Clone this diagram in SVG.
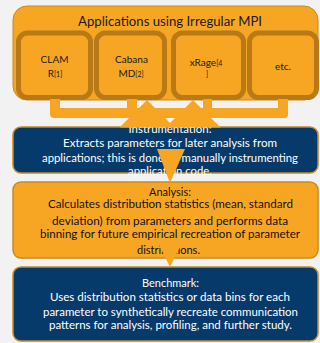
<svg xmlns="http://www.w3.org/2000/svg" width="320" height="343" viewBox="0 0 320 343">
<style>
.bg{fill:#f2f2f2}
.outer{fill:#f6a623;stroke:#c98b1c;stroke-width:1}
.app{fill:#f6a623;stroke:#b97a16;stroke-width:5}
.blue{fill:#063a6b;stroke:#c58a26;stroke-width:1.5}
.orange{fill:#f6a623;stroke:#c98b1c;stroke-width:1.5}
.conn{fill:#f6a623;stroke:none}
text{font-family:Lato,"Open Sans","Liberation Sans",sans-serif;text-anchor:middle}
.t{font-size:13px;fill:#1a1a1a}
.s{font-size:10px;fill:#1a1a1a}
.w{font-size:11.5px;fill:#ffffff}
.k{font-size:11.5px;fill:#111111}
.ref{font-size:7px}
</style>
<rect class="bg" x="0" y="0" width="320" height="343"/>
<g id="applications">
<rect class="outer" x="13" y="6" width="305" height="94" rx="14"/>
<text class="t" x="170" y="26" textLength="184" lengthAdjust="spacingAndGlyphs">Applications using Irregular MPI</text>
</g>
<g id="clamr">
<rect class="app" x="18.5" y="33" width="72" height="64.5" rx="9"/>
<text class="s" x="54.5" y="63">CLAM</text>
<text class="s" x="55" y="77">R<tspan class="ref">[1]</tspan></text>
</g>
<g id="cabanamd">
<rect class="app" x="96.5" y="33" width="68" height="64.5" rx="9"/>
<text class="s" x="131.5" y="63">Cabana</text>
<text class="s" x="131" y="77">MD<tspan class="ref">[2]</tspan></text>
</g>
<g id="xrage">
<rect class="app" x="173.5" y="33" width="70" height="64.5" rx="9"/>
<text class="s" x="206" y="66">xRage<tspan class="ref">[4</tspan></text>
<text class="s" x="207" y="77"><tspan class="ref">]</tspan></text>
</g>
<g id="etc">
<rect class="app" x="249.5" y="33" width="67" height="64.5" rx="9"/>
<text class="s" x="283" y="70">etc.</text>
</g>
<g id="instrumentation">
<rect class="blue" x="13" y="127" width="305" height="46" rx="8"/>
<text class="w" x="170" y="133" textLength="83" lengthAdjust="spacingAndGlyphs">Instrumentation:</text>
<text class="w" x="170" y="147" textLength="214" lengthAdjust="spacingAndGlyphs">Extracts parameters for later analysis from</text>
<text class="w" x="170" y="162" textLength="256" lengthAdjust="spacingAndGlyphs">applications; this is done by manually instrumenting</text>
<text class="w" x="170" y="175" textLength="84" lengthAdjust="spacingAndGlyphs">application code.</text>
</g>
<g id="analysis">
<rect class="orange" x="13" y="182" width="305" height="76" rx="8"/>
<text class="k" x="170" y="196" textLength="42" lengthAdjust="spacingAndGlyphs">Analysis:</text>
<text class="k" x="170.5" y="208" textLength="245" lengthAdjust="spacingAndGlyphs">Calculates distribution statistics (mean, standard</text>
<text class="k" x="170" y="224.5" textLength="236" lengthAdjust="spacingAndGlyphs">deviation)  from parameters and performs data</text>
<text class="k" x="170" y="237.5" textLength="260" lengthAdjust="spacingAndGlyphs">binning for future empirical recreation of parameter</text>
<text class="k" x="168.5" y="254" textLength="63" lengthAdjust="spacingAndGlyphs">distributions.</text>
</g>
<g id="benchmark">
<rect class="blue" x="13" y="267" width="305" height="74" rx="8"/>
<text class="w" x="170.5" y="287" textLength="57" lengthAdjust="spacingAndGlyphs">Benchmark:</text>
<text class="w" x="170" y="301" textLength="240" lengthAdjust="spacingAndGlyphs">Uses distribution statistics or data bins for each</text>
<text class="w" x="170.5" y="315.5" textLength="255" lengthAdjust="spacingAndGlyphs">parameter to synthetically recreate communication</text>
<text class="w" x="170.5" y="329" textLength="243" lengthAdjust="spacingAndGlyphs">patterns for analysis, profiling, and further study.</text>
</g>
<g id="connectors">
<path class="conn" d="M50,99 H60 V108 H127 V99 H137 V108 H203 V99 H212 V108 H278 V99 H288 V114 Q288,118 284,118 H54 Q50,118 50,114 Z"/>
<polygon class="conn" points="147,100 170,123 193,100 220.5,127.5 119.5,127.5"/>
<polygon class="conn" points="157,149 185,149 170,183"/>
<polygon class="conn" points="158,243 182,243 170,267"/>
</g>
</svg>
